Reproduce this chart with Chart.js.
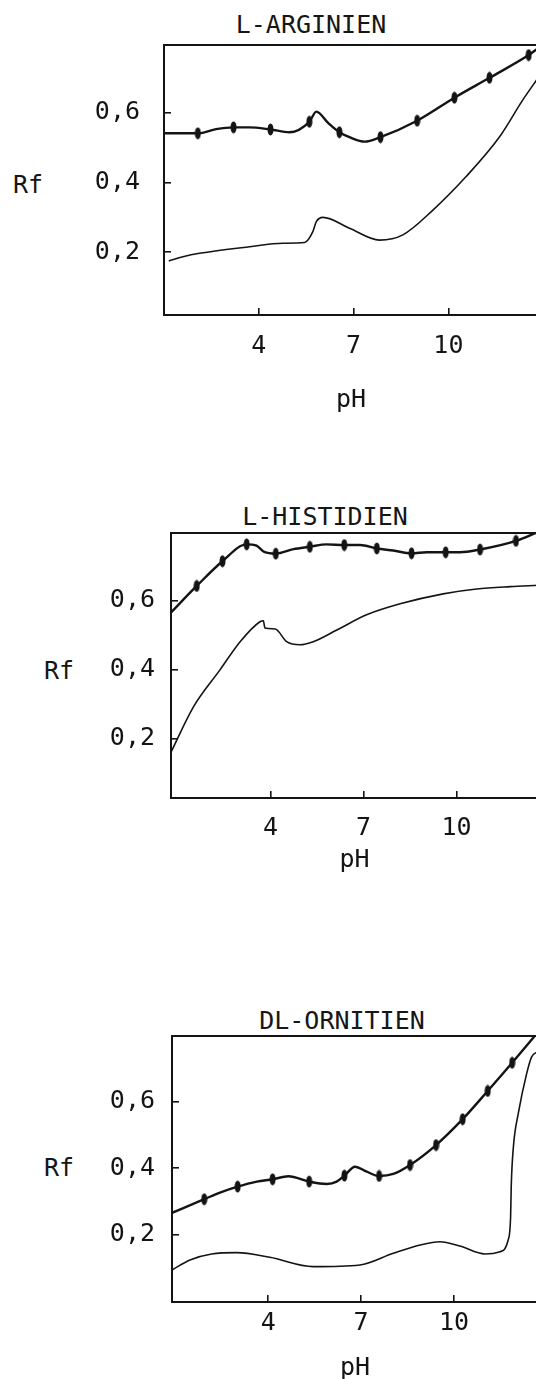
<!DOCTYPE html>
<html>
<head>
<meta charset="utf-8">
<script src="https://cdn.jsdelivr.net/npm/chart.js@4.4.0/dist/chart.umd.min.js"></script>
<style>
    html, body { margin: 0; padding: 0; background: #fff; overflow: hidden; }
    body { width: 536px; height: 1379px; position: relative; font-family: "DejaVu Sans Mono", monospace; color: #161616; }
    .lbl { position: absolute; font-size: 25px; line-height: 30px; white-space: nowrap; transform: translate(-50%, -50%); }
    canvas { position: absolute; left: 0; }
</style>
</head>
<body>
<div class="lbl" style="left:311px;top:25px">L-ARGINIEN</div>
<div class="lbl" style="left:28px;top:185px">Rf</div>
<canvas id="chart-arg"></canvas>

<div class="lbl" style="left:325px;top:517px">L-HISTIDIEN</div>
<div class="lbl" style="left:59px;top:671px">Rf</div>
<canvas id="chart-his"></canvas>

<div class="lbl" style="left:342px;top:1021px">DL-ORNITIEN</div>
<div class="lbl" style="left:59px;top:1168px">Rf</div>
<canvas id="chart-orn"></canvas>

<script>
// tick values and labels (comma decimals as in the original)
const xTickValues = [4, 7, 10];
const xTickLabels = ['4', '7', '10'];
const yTickValues = [0.2, 0.4, 0.6];
const yTickLabels = ['0,2', '0,4', '0,6'];

// L-Arginien: [pH, Rf]
const argMarkers = [[2.07, 0.541], [3.20, 0.558], [4.37, 0.552], [5.60, 0.574], [6.55, 0.544],
    [7.85, 0.530], [9.01, 0.577], [10.19, 0.643], [11.30, 0.700], [12.54, 0.765]];
const argUpperShape = [[1.00, 0.541], [1.60, 0.541], [2.65, 0.553], [3.70, 0.558], [4.97, 0.544],
    [5.82, 0.603], [6.20, 0.570], [6.87, 0.530], [7.35, 0.517], [12.84, 0.785]];
const argLower = [[1.15, 0.175], [1.60, 0.187], [2.12, 0.197], [3.71, 0.216], [4.76, 0.226],
    [5.45, 0.228], [5.71, 0.259], [5.82, 0.288], [6.03, 0.300], [6.87, 0.269], [7.82, 0.235],
    [8.56, 0.250], [9.51, 0.321], [10.56, 0.417], [11.62, 0.531], [12.35, 0.636], [12.84, 0.700]];

// L-Histidien
const hisMarkers = [[1.62, 0.643], [2.45, 0.715], [3.23, 0.764], [4.17, 0.737], [5.27, 0.757],
    [6.38, 0.762], [7.43, 0.752], [8.55, 0.738], [9.65, 0.741], [10.76, 0.749], [11.92, 0.774]];
const hisUpperShape = [[0.79, 0.566], [3.55, 0.760], [3.80, 0.742], [4.74, 0.750], [5.81, 0.764],
    [6.89, 0.762], [7.96, 0.746], [9.04, 0.741], [10.11, 0.741], [12.63, 0.800]];
const hisLower = [[0.79, 0.160], [1.51, 0.291], [2.37, 0.399], [3.02, 0.481], [3.66, 0.539],
    [3.77, 0.542], [3.82, 0.521], [4.15, 0.518], [4.52, 0.481], [4.95, 0.472], [5.38, 0.481],
    [6.14, 0.515], [7.10, 0.559], [8.18, 0.591], [9.57, 0.620], [10.65, 0.634], [11.73, 0.641], [12.63, 0.645]];

// DL-Ornitien
const ornMarkers = [[1.93, 0.306], [3.01, 0.344], [4.14, 0.366], [5.32, 0.359], [6.46, 0.377],
    [7.58, 0.376], [8.58, 0.409], [9.42, 0.469], [10.28, 0.547], [11.09, 0.632], [11.88, 0.717]];
const ornUpperShape = [[0.89, 0.265], [2.44, 0.326], [3.63, 0.359], [4.65, 0.375], [5.89, 0.352],
    [6.21, 0.359], [6.80, 0.404], [7.18, 0.389], [8.04, 0.382], [12.72, 0.810]];
const ornLower = [[0.89, 0.093], [1.47, 0.123], [2.17, 0.141], [2.98, 0.145], [4.05, 0.131],
    [5.45, 0.103], [6.96, 0.108], [8.04, 0.143], [8.90, 0.168], [9.55, 0.178], [10.19, 0.165],
    [11.00, 0.141], [11.49, 0.148], [11.75, 0.183], [11.83, 0.253], [11.85, 0.344], [11.92, 0.464],
    [12.08, 0.565], [12.35, 0.685], [12.51, 0.735], [12.72, 0.750]];

const INK = '#141414';
const CANVAS_W = 538;   // right frame sits just outside the 536px window, as in the scan
const PAD_TOP = 10;

const toXY = (arr) => arr.map(p => ({x: p[0], y: p[1]}));
const mergeCurve = (shape, markers) => toXY([...shape, ...markers].sort((a, b) => a[0] - b[0]));

// small upright ellipse used as the measuring-point marker
function makeMarker() {
    const c = document.createElement('canvas');
    c.width = 7;
    c.height = 13;
    const g = c.getContext('2d');
    g.fillStyle = INK;
    g.beginPath();
    g.ellipse(3.5, 6.5, 3, 6, 0, 0, Math.PI * 2);
    g.fill();
    return c;
}
const marker = makeMarker();

const framePlugin = {
    id: 'frame',
    beforeDatasetsDraw(chart) {
        const {ctx, chartArea: a} = chart;
        ctx.save();
        ctx.strokeStyle = INK;
        ctx.lineWidth = 2;
        ctx.strokeRect(a.left, a.top, a.right - a.left, a.bottom - a.top);
        ctx.restore();
    }
};

// Chart.js pads the chart area for tick labels near the ends; the frame here is fixed
function noPadding(s) {
    s.paddingTop = 0;
    s.paddingBottom = 0;
    s.paddingLeft = 0;
    s.paddingRight = 0;
}

const panels = [
    {id: 'chart-arg', left: 164, top: 45, bottom: 315, canvasBottom: 415,
     xMin: 1, xMax: 12.835, yMin: 0.0203, yMax: 0.794, yPad: 31, xPad: 23,
     markers: argMarkers, upper: argUpperShape, lower: argLower},
    {id: 'chart-his', left: 171, top: 533, bottom: 798, canvasBottom: 875,
     xMin: 0.79, xMax: 12.63, yMin: 0.0265, yMax: 0.797, yPad: 23, xPad: 22,
     markers: hisMarkers, upper: hisUpperShape, lower: hisLower},
    {id: 'chart-orn', left: 172, top: 1036, bottom: 1302, canvasBottom: 1383,
     xMin: 0.889, xMax: 12.715, yMin: -0.0036, yMax: 0.7976, yPad: 24, xPad: 13,
     markers: ornMarkers, upper: ornUpperShape, lower: ornLower}
];

const tickFont = {family: '"DejaVu Sans Mono", monospace', size: 25};

function createPanel(p) {
    const canvas = document.getElementById(p.id);
    const canvasTop = p.top - PAD_TOP;
    const h = p.canvasBottom - canvasTop;
    canvas.width = CANVAS_W;
    canvas.height = h;
    canvas.style.width = CANVAS_W + 'px';
    canvas.style.height = h + 'px';
    canvas.style.top = canvasTop + 'px';
    const xAxisH = p.canvasBottom - p.bottom;

    return new Chart(canvas, {
        type: 'line',
        data: {
            datasets: [
                {
                    label: 'upper',
                    data: mergeCurve(p.upper, p.markers),
                    borderColor: INK,
                    borderWidth: 2.4,
                    pointRadius: 0,
                    cubicInterpolationMode: 'monotone'
                },
                {
                    label: 'points',
                    data: toXY(p.markers),
                    showLine: false,
                    pointStyle: marker,
                    pointRadius: 6
                },
                {
                    label: 'lower',
                    data: toXY(p.lower),
                    borderColor: INK,
                    borderWidth: 1.6,
                    pointRadius: 0,
                    cubicInterpolationMode: 'monotone'
                }
            ]
        },
        options: {
            responsive: false,
            animation: false,
            devicePixelRatio: 1,
            layout: {autoPadding: false, padding: {top: PAD_TOP, right: 0, bottom: 0, left: 0}},
            plugins: {
                legend: {display: false},
                tooltip: {enabled: false}
            },
            scales: {
                x: {
                    type: 'linear',
                    min: p.xMin,
                    max: p.xMax,
                    afterBuildTicks: (s) => { s.ticks = xTickValues.map(v => ({value: v})); },
                    afterFit: (s) => { s.height = xAxisH; noPadding(s); },
                    border: {display: false},
                    grid: {drawOnChartArea: false, tickLength: -7, color: INK, lineWidth: 1.6},
                    ticks: {
                        color: INK,
                        font: tickFont,
                        padding: p.xPad,
                        maxRotation: 0,
                        callback: (v) => xTickLabels[xTickValues.indexOf(v)]
                    },
                    title: {display: true, text: 'pH', color: INK, font: tickFont, padding: {top: 0, bottom: 0}}
                },
                y: {
                    type: 'linear',
                    min: p.yMin,
                    max: p.yMax,
                    afterBuildTicks: (s) => { s.ticks = yTickValues.map(v => ({value: v})); },
                    afterFit: (s) => { s.width = p.left; noPadding(s); },
                    border: {display: false},
                    grid: {drawOnChartArea: false, tickLength: -7, color: INK, lineWidth: 1.6},
                    ticks: {
                        color: INK,
                        font: tickFont,
                        padding: p.yPad,
                        callback: (v) => yTickLabels[yTickValues.indexOf(v)]
                    }
                }
            }
        },
        plugins: [framePlugin]
    });
}

panels.forEach(createPanel);
</script>
</body>
</html>
